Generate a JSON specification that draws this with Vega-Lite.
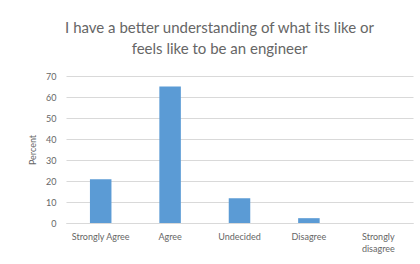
{
  "$schema": "https://vega.github.io/schema/vega-lite/v6.json",
  "width": 347,
  "height": 147,
  "autosize": "none",
  "padding": {"left": 66, "top": 76, "right": 7, "bottom": 41},
  "background": "white",
  "title": {
    "text": ["I have a better understanding of what its like or", "feels like to be an engineer"],
    "font": "Lato",
    "fontSize": 15,
    "fontWeight": "normal",
    "color": "#666666",
    "anchor": "middle",
    "dx": -20,
    "offset": 15,
    "lineHeight": 21
  },
  "data": {
    "values": [
      {"response": "Strongly Agree", "percent": 20.8},
      {"response": "Agree", "percent": 65},
      {"response": "Undecided", "percent": 11.8},
      {"response": "Disagree", "percent": 2.3},
      {"response": "Strongly disagree", "percent": 0}
    ]
  },
  "mark": {"type": "bar", "color": "#5B9BD5"},
  "encoding": {
    "x": {
      "field": "response",
      "type": "nominal",
      "sort": null,
      "scale": {"paddingInner": 0.69, "paddingOuter": 0.345},
      "axis": {
        "title": null,
        "labelAngle": 0,
        "labelFont": "Lato",
        "labelFontSize": 9,
        "labelColor": "#666666",
        "labelPadding": 9,
        "ticks": false,
        "domainColor": "#d9d9d9",
        "labelExpr": "datum.label == 'Strongly disagree' ? ['Strongly', 'disagree'] : datum.label",
        "labelLineHeight": 12
      }
    },
    "y": {
      "field": "percent",
      "type": "quantitative",
      "scale": {"domain": [0, 70]},
      "axis": {
        "title": "Percent",
        "titleFont": "Lato",
        "titleFontSize": 9,
        "titleFontWeight": "normal",
        "titleColor": "#666666",
        "titlePadding": 8,
        "labelFont": "Lato",
        "labelFontSize": 9,
        "labelColor": "#666666",
        "labelPadding": 10,
        "values": [0, 10, 20, 30, 40, 50, 60, 70],
        "ticks": false,
        "domain": false,
        "gridColor": "#d9d9d9"
      }
    }
  },
  "config": {"view": {"stroke": null}}
}
